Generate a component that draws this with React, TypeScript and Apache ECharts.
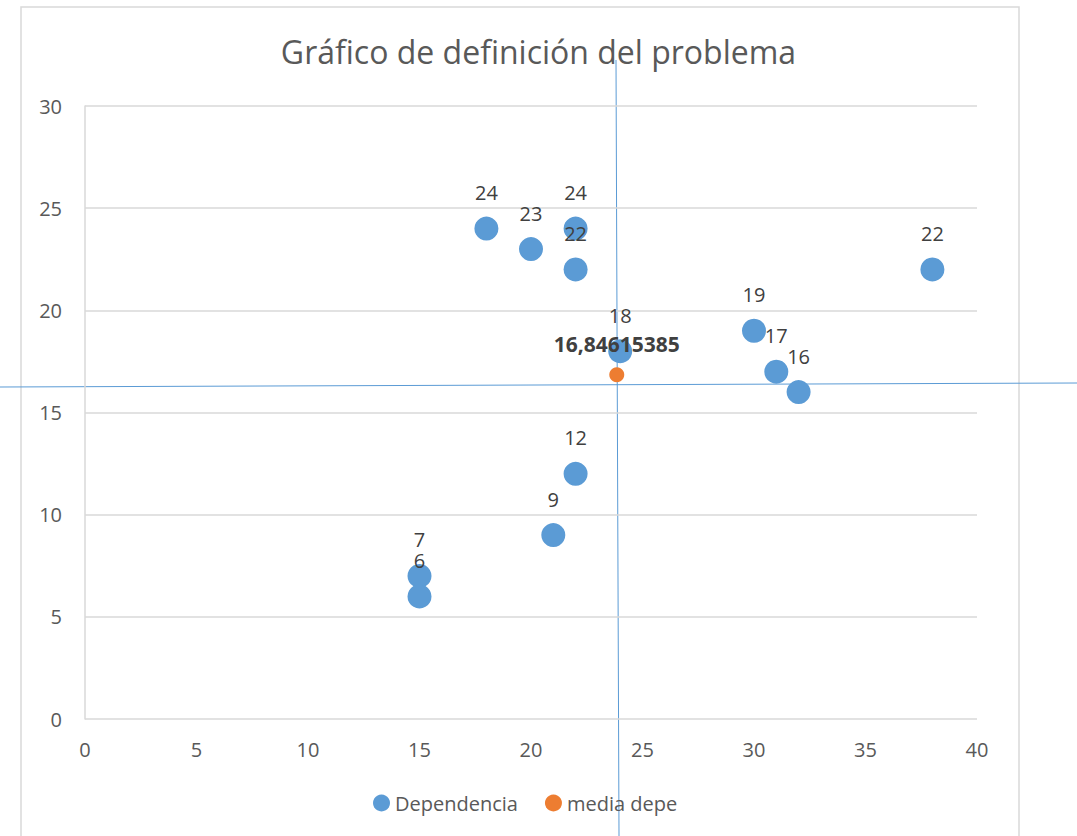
import React, { useEffect, useRef } from "react";
import * as echarts from "echarts";

const titleText = "Gráfico de definición del problema";
const depX = [18, 20, 22, 22, 24, 30, 31, 32, 38, 22, 21, 15, 15];
const depY = [24, 23, 24, 22, 18, 19, 17, 16, 22, 12, 9, 7, 6];
const mediaX = [23.84615385];
const mediaY = [16.84615385];
const seriesNames = ["Dependencia", "media depe"];

export default function App() {
  const ref = useRef<HTMLDivElement>(null);
  useEffect(() => {
    document.body.style.margin = "0";
    const chart = echarts.init(ref.current!, null, { renderer: "svg" });
    const font = "'Open Sans', sans-serif";
    chart.setOption({
      animation: false,
      backgroundColor: "#ffffff",
      textStyle: { fontFamily: font },
      title: {
        text: titleText,
        left: "center",
        top: 30,
        textStyle: { fontFamily: font, fontSize: 32, fontWeight: "normal", color: "#595959" },
      },
      legend: {
        bottom: 18,
        left: 368,
        itemWidth: 17,
        itemHeight: 17,
        itemGap: 27,
        icon: "circle",
        textStyle: { fontFamily: font, fontSize: 20, color: "#595959" },
        data: seriesNames,
      },
      grid: { left: 85, right: 100, top: 106, bottom: 117 },
      xAxis: {
        type: "value",
        min: 0,
        max: 40,
        interval: 5,
        axisLine: { show: false },
        axisTick: { show: false },
        splitLine: { show: false },
        axisLabel: { fontFamily: font, fontSize: 20, color: "#595959", margin: 20 },
      },
      yAxis: {
        type: "value",
        min: 0,
        max: 30,
        interval: 5,
        axisLine: { show: true, lineStyle: { color: "#d9d9d9", width: 1.5 } },
        axisTick: { show: false },
        splitLine: { show: true, lineStyle: { color: "#d9d9d9", width: 1.5 } },
        axisLabel: { fontFamily: font, fontSize: 20, color: "#595959", margin: 23 },
      },
      series: [
        {
          name: seriesNames[0],
          type: "scatter",
          symbolSize: 24,
          itemStyle: { color: "#5b9bd5", opacity: 1 },
          data: depX.map((x, i) => [x, depY[i]]),
          label: {
            show: true,
            position: "top",
            distance: 14,
            fontFamily: font,
            fontSize: 20,
            color: "#404040",
            formatter: (p: any) => String(p.value[1]),
          },
        },
        {
          name: seriesNames[1],
          type: "scatter",
          symbolSize: 15,
          itemStyle: { color: "#ed7d31", opacity: 1 },
          data: mediaX.map((x, i) => [x, mediaY[i]]),
          label: {
            show: true,
            position: "top",
            distance: 13,
            fontFamily: font,
            fontSize: 21,
            fontWeight: "bold",
            color: "#404040",
            formatter: (p: any) => String(p.value[1]).replace(".", ","),
          },
        },
      ],
      graphic: [
        {
          type: "rect",
          shape: { x: 21, y: 7, width: 998, height: 840 },
          style: { fill: "none", stroke: "#d9d9d9", lineWidth: 1.5 },
          silent: true,
        },
        {
          type: "line",
          shape: { x1: 616, y1: 60, x2: 619, y2: 836 },
          style: { stroke: "#5b9bd5", lineWidth: 1 },
          silent: true,
        },
        {
          type: "line",
          shape: { x1: 0, y1: 387, x2: 1077, y2: 383 },
          style: { stroke: "#5b9bd5", lineWidth: 1 },
          silent: true,
        },
      ],
    });
    return () => chart.dispose();
  }, []);
  return <div ref={ref} style={{ position: "fixed", left: 0, top: 0, width: 1077, height: 836 }} />;
}
